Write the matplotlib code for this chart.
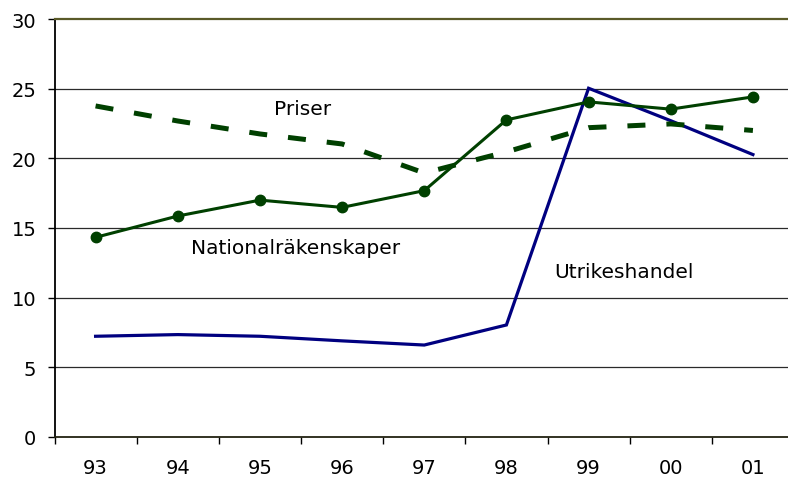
import matplotlib
matplotlib.use("Agg")
import matplotlib.pyplot as plt
import numpy as np

years = ["93", "94", "95", "96", "97", "98", "99", "00", "01"]
nationalrakenskaper = [14.33, 15.86, 17.0, 16.48, 17.68, 22.76, 24.05, 23.53, 24.41]
priser = [23.76, 22.68, 21.75, 21.03, 18.95, 20.46, 22.2, 22.47, 22.0]
utrikeshandel = [7.23, 7.35, 7.23, 6.9, 6.6, 8.04, 25.03, 22.7, 20.27]
yticks = [0, 5, 10, 15, 20, 25, 30]

plt.rcParams['font.family'] = ['DejaVu Sans']

fig = plt.figure(figsize=(7.88, 4.85), dpi=100)
ax = fig.add_axes([54.5 / 788, 47 / 485, 739.5 / 788, 418 / 485])

x = np.arange(len(years))
green = "#004000"
navy = "#000080"
fs_tick = 14
fs_lab = 14.5

ax.plot(x, utrikeshandel, color=navy, lw=2.3, solid_joinstyle='miter', zorder=3)
ax.plot(x, priser, color=green, lw=3.6, linestyle=(0, (3.6, 4.2)), zorder=3)
ax.plot(x, nationalrakenskaper, color=green, lw=2.2, marker='o', markersize=7.5,
        markerfacecolor=green, markeredgecolor=green, zorder=4)

ax.set_xlim(-0.5, len(years) - 0.5)
ax.set_ylim(0, 30)
ax.set_yticks(yticks)
ax.set_yticklabels([str(v) for v in yticks], fontsize=fs_tick)
ax.set_xticks(x)
ax.set_xticklabels(years, fontsize=fs_tick)
ax.set_xticks(np.arange(len(years) + 1) - 0.5, minor=True)
ax.tick_params(axis='x', which='major', length=0, pad=15)
ax.tick_params(axis='x', which='minor', length=7 * 0.72, width=1, direction='out', color='black')
ax.tick_params(axis='y', which='major', length=7 * 0.72, width=1, direction='out', pad=8)

for v in yticks[1:-1]:
    ax.axhline(v, color="#2a2a2a", lw=0.9, zorder=1)

ax.spines['right'].set_visible(False)
ax.spines['top'].set_color("#5a5a28")
ax.spines['top'].set_linewidth(1.6)
ax.spines['left'].set_color("black")
ax.spines['left'].set_linewidth(1.3)
ax.spines['bottom'].set_color("#222211")
ax.spines['bottom'].set_linewidth(1.3)

ax.text(2.52, 23.6, "Priser", fontsize=fs_lab, ha='center', va='center')
ax.text(2.43, 13.57, "Nationalräkenskaper", fontsize=fs_lab, ha='center', va='center')
ax.text(6.43, 11.9, "Utrikeshandel", fontsize=fs_lab, ha='center', va='center')

fig.savefig("out.png", dpi=100)
